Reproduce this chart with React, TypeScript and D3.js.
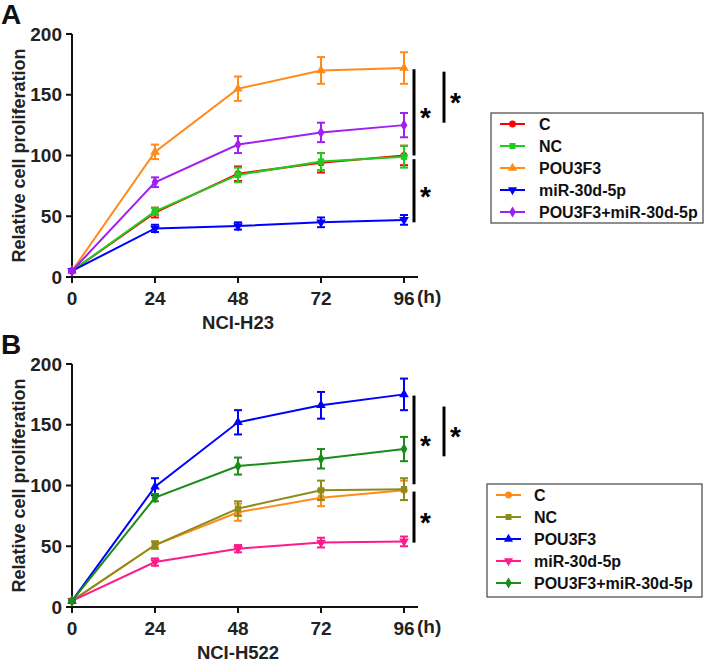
import * as d3 from 'd3';

const HOURS = [0, 24, 48, 72, 96];
const Y_TICKS = [0, 50, 100, 150, 200];
const LABELS = ['C', 'NC', 'POU3F3', 'miR-30d-5p', 'POU3F3+miR-30d-5p'];

// Panel A (NCI-H23)
const A_MEAN = [
  [5, 53, 85, 94, 100],
  [5, 54, 84, 95, 99],
  [5, 103, 155, 170, 172],
  [5, 40, 42, 45, 47],
  [5, 78, 109, 119, 125],
];
const A_ERR = [
  [1, 4, 6, 8, 8],
  [1, 3, 6, 7, 9],
  [1, 6, 10, 11, 13],
  [1, 3, 3, 4, 4],
  [1, 4, 7, 8, 10],
];
const A_COLORS = ['#ff0000', '#1fcc1f', '#ff8c1a', '#0000ff', '#a020f0'];

// Panel B (NCI-H522)
const B_MEAN = [
  [5, 51, 78, 90, 96],
  [5, 51, 81, 96, 97],
  [5, 99, 152, 166, 175],
  [5, 37, 48, 53, 54],
  [5, 90, 116, 122, 130],
];
const B_ERR = [
  [1, 3, 7, 7, 8],
  [1, 3, 6, 8, 9],
  [1, 7, 10, 11, 13],
  [1, 3, 3, 4, 4],
  [1, 3, 7, 8, 10],
];
const B_COLORS = ['#ff8c1a', '#8c8c1a', '#0000ff', '#ff1a8c', '#1a8c1a'];

// significance brackets: [from, to] in data units, column 0 = inner, 1 = outer
const A_SIG = [
  { y0: 171, y1: 100, col: 0 },
  { y0: 169, y1: 127, col: 1 },
  { y0: 97, y1: 45, col: 0 },
];
const B_SIG = [
  { y0: 174, y1: 101, col: 0 },
  { y0: 165, y1: 124, col: 1 },
  { y0: 95, y1: 53, col: 0 },
];

const SYMBOLS = [d3.symbolCircle, d3.symbolSquare, d3.symbolTriangle, d3.symbolTriangle, d3.symbolDiamond];
const ROTATE = [0, 0, 0, 180, 0];
const FONT = 'Liberation Sans, Arial, sans-serif';
const TEXT = '#222';

interface PanelProps {
  top: number;
  letter: string;
  title: string;
  means: number[][];
  errs: number[][];
  colors: string[];
  sig: { y0: number; y1: number; col: number }[];
  legend: { x: number; y: number; w: number; h: number; lineX: number; textX: number };
}

function Panel({ top, letter, title, means, errs, colors, sig, legend }: PanelProps) {
  const x = d3.scaleLinear().domain([0, 96]).range([72, 404]);
  const y = d3.scaleLinear().domain([0, 200]).range([top + 243, top]);
  const line = d3.line<number>().x((_, i) => x(HOURS[i])).y((d) => y(d));
  const symbolPath = (i: number, size: number) => d3.symbol().type(SYMBOLS[i]).size(size)()!;
  const y0 = y(0);

  return (
    <g>
      <text x={1} y={top - 10} fontFamily={FONT} fontWeight="bold" fontSize={28} fill="#111">
        {letter}
      </text>
      {/* y axis */}
      <line x1={72} x2={72} y1={y(200)} y2={y0} stroke="#111" strokeWidth={2} />
      {Y_TICKS.map((t) => (
        <g key={t}>
          <line x1={66} x2={72} y1={y(t)} y2={y(t)} stroke="#111" strokeWidth={2} />
          <text x={62} y={y(t)} dy="0.35em" textAnchor="end" fontFamily={FONT} fontWeight="bold" fontSize={19} fill={TEXT}>
            {t}
          </text>
        </g>
      ))}
      {/* x axis */}
      <line x1={71} x2={418} y1={y0} y2={y0} stroke="#111" strokeWidth={2} />
      {HOURS.map((h) => (
        <g key={h}>
          <line x1={x(h)} x2={x(h)} y1={y0} y2={y0 + 6} stroke="#111" strokeWidth={2} />
          <text x={x(h)} y={y0 + 28} textAnchor="middle" fontFamily={FONT} fontWeight="bold" fontSize={19} fill={TEXT}>
            {h}
          </text>
        </g>
      ))}
      <text x={417} y={y0 + 26} fontFamily={FONT} fontWeight="bold" fontSize={19} fill={TEXT}>
        (h)
      </text>
      <text x={x(48)} y={y0 + 52} textAnchor="middle" fontFamily={FONT} fontWeight="bold" fontSize={18.5} fill={TEXT}>
        {title}
      </text>
      <text
        transform={`translate(25,${(y(200) + y0) / 2}) rotate(-90)`}
        textAnchor="middle"
        fontFamily={FONT}
        fontWeight="bold"
        fontSize={18}
        fill={TEXT}
      >
        Relative cell proliferation
      </text>
      {/* series */}
      {means.map((m, i) => (
        <g key={i}>
          <path d={line(m)!} fill="none" stroke={colors[i]} strokeWidth={2} />
          {m.map((v, j) => {
            const e = errs[i][j];
            const cx = x(HOURS[j]);
            return (
              <g key={j}>
                <line x1={cx} x2={cx} y1={y(v + e)} y2={y(v - e)} stroke={colors[i]} strokeWidth={2} />
                <line x1={cx - 4} x2={cx + 4} y1={y(v + e)} y2={y(v + e)} stroke={colors[i]} strokeWidth={2} />
                <line x1={cx - 4} x2={cx + 4} y1={y(v - e)} y2={y(v - e)} stroke={colors[i]} strokeWidth={2} />
                <path
                  d={symbolPath(i, 40)}
                  transform={`translate(${cx},${y(v)}) rotate(${ROTATE[i]})`}
                  fill={colors[i]}
                />
              </g>
            );
          })}
        </g>
      ))}
      {/* significance */}
      {sig.map((s, k) => {
        const bx = s.col === 0 ? 414 : 444;
        return (
          <g key={k}>
            <line x1={bx} x2={bx} y1={y(s.y0)} y2={y(s.y1)} stroke="#000" strokeWidth={3} />
            <text
              x={bx + 6}
              y={(y(s.y0) + y(s.y1)) / 2 + 15}
              fontFamily={FONT}
              fontWeight="bold"
              fontSize={28}
              fill="#000"
            >
              *
            </text>
          </g>
        );
      })}
      {/* legend */}
      <rect x={legend.x} y={legend.y} width={legend.w} height={legend.h} fill="#fff" stroke="#444" strokeWidth={1.2} />
      {LABELS.map((lab, i) => {
        const ly = legend.y + 11 + i * 22;
        return (
          <g key={lab}>
            <line x1={legend.lineX} x2={legend.lineX + 25} y1={ly} y2={ly} stroke={colors[i]} strokeWidth={2} />
            <path
              d={symbolPath(i, 36)}
              transform={`translate(${legend.lineX + 12.5},${ly}) rotate(${ROTATE[i]})`}
              fill={colors[i]}
            />
            <text x={legend.textX} y={ly} dy="0.36em" fontFamily={FONT} fontWeight="bold" fontSize={16} fill="#111">
              {lab}
            </text>
          </g>
        );
      })}
    </g>
  );
}

export default function App() {
  return (
    <div style={{ position: 'absolute', left: 0, top: 0 }}>
      <svg width={709} height={663} viewBox="0 0 709 663" style={{ display: 'block', background: '#fff' }}>
        <Panel
          top={34}
          letter="A"
          title="NCI-H23"
          means={A_MEAN}
          errs={A_ERR}
          colors={A_COLORS}
          sig={A_SIG}
          legend={{ x: 491, y: 113, w: 212, h: 110, lineX: 500, textX: 539 }}
        />
        <Panel
          top={364}
          letter="B"
          title="NCI-H522"
          means={B_MEAN}
          errs={B_ERR}
          colors={B_COLORS}
          sig={B_SIG}
          legend={{ x: 487, y: 484, w: 215, h: 113, lineX: 496, textX: 534 }}
        />
      </svg>
    </div>
  );
}
